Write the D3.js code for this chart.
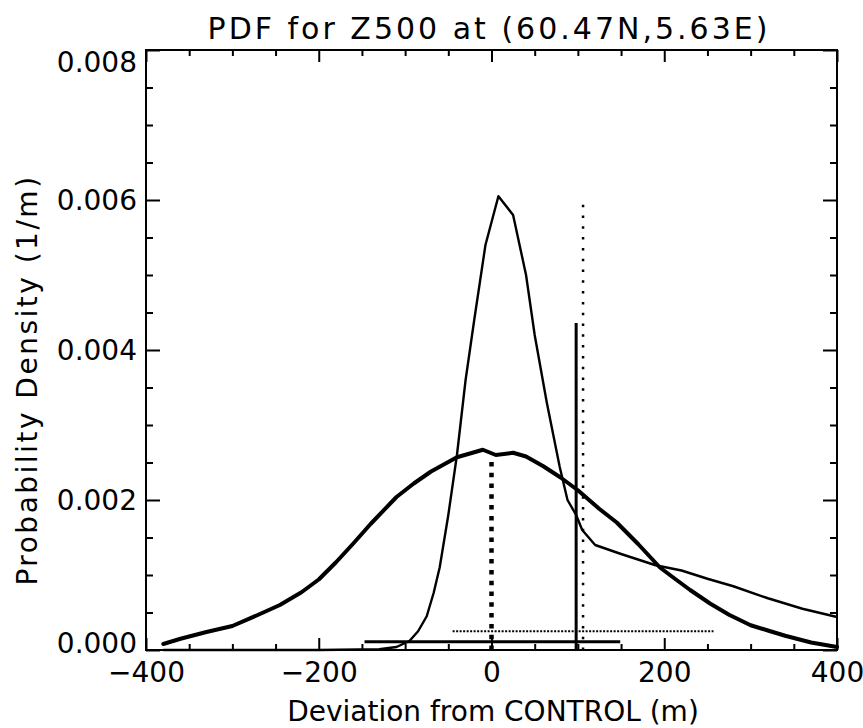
<!DOCTYPE html>
<html>
<head>
<meta charset="utf-8">
<script src="https://cdn.jsdelivr.net/npm/d3@7"></script>
<style>
  body { margin: 0; background: #fff; }
  svg text { font-family: "DejaVu Sans", sans-serif; fill: #000; }
</style>
</head>
<body>
<div id="chart"></div>
<script>
// broad PDF (thick curve): deviation (m) / density (1/m)
const broadX = [-380, -360, -330, -300, -270, -245, -220, -200, -180, -160, -140, -110, -90, -70, -40, -10, 5, 25, 40, 60, 80, 100, 125, 145, 170, 195, 210, 230, 253, 275, 300, 320, 340, 370, 400];
const broadY = [0.00008, 0.00015, 0.00024, 0.00032, 0.00047, 0.0006, 0.00077, 0.00094, 0.00117, 0.00142, 0.00168, 0.00204, 0.00222, 0.00238, 0.00257, 0.00267, 0.0026, 0.00263, 0.00258, 0.00245, 0.0023, 0.00213, 0.00188, 0.0017, 0.00141, 0.0011, 0.00097, 0.0008, 0.00062, 0.00047, 0.00033, 0.00026, 0.00019, 0.0001, 0.00004];

// narrow PDF (thin curve)
const narrowX = [-380, -200, -130, -110, -95, -85, -75, -67, -60, -50, -40, -30, -20, -7, 8, 25, 40, 50, 64, 79, 88, 98, 105, 120, 150, 190, 220, 250, 280, 320, 360, 400];
const narrowY = [0, 0, 0.00001, 0.00004, 0.00012, 0.00025, 0.00045, 0.00076, 0.0011, 0.0018, 0.0026, 0.0036, 0.0044, 0.0054, 0.00605, 0.0058, 0.005, 0.0042, 0.0033, 0.00244, 0.002, 0.0018, 0.0016, 0.0014, 0.00128, 0.00113, 0.00106, 0.00095, 0.00085, 0.00069, 0.00055, 0.00044];

// vertical markers: broad mean, narrow mean, observed value
const markX = [0, 106, 98];
const markTop = [0.00257, 0.00597, 0.00436];

// horizontal spreads: narrow, broad
const spreadX0 = [-45, -147];
const spreadX1 = [257, 149];
const spreadY = [0.00025, 0.00011];

const xTicks = [-400, -200, 0, 200, 400];
const yTicks = [0, 0.002, 0.004, 0.006, 0.008];
const xMinor = d3.range(-400, 401, 50).filter(v => v % 200 !== 0);
const yMinor = [0.0005, 0.001, 0.0015, 0.0025, 0.003, 0.0035, 0.0045, 0.005, 0.0055, 0.0065, 0.007, 0.0075];

const width = 863, height = 728;
const margin = { top: 50, right: 26, bottom: 78, left: 146 };

const svg = d3.select("#chart").append("svg")
    .attr("width", width)
    .attr("height", height);

const x = d3.scaleLinear().domain([-400, 400]).range([margin.left, width - margin.right]);
const y = d3.scaleLinear().domain([0, 0.008]).range([height - margin.bottom, margin.top]);

// ===== axes (ticks point inward, IDL style) =====
const fontSize = "28px";

// bottom
svg.append("g")
    .attr("transform", `translate(0,${y(0)})`)
    .call(d3.axisBottom(x).tickValues(xTicks).tickSize(-12).tickPadding(12))
    .call(g => g.select(".domain").remove())
    .call(g => g.selectAll("text").style("font-size", fontSize).style("font-family", "DejaVu Sans"));
svg.append("g")
    .attr("transform", `translate(0,${y(0)})`)
    .call(d3.axisBottom(x).tickValues(xMinor).tickSize(-6).tickFormat(""))
    .call(g => g.select(".domain").remove());

// top
svg.append("g")
    .attr("transform", `translate(0,${y(0.008)})`)
    .call(d3.axisTop(x).tickValues(xTicks).tickSize(-12).tickFormat(""))
    .call(g => g.select(".domain").remove());
svg.append("g")
    .attr("transform", `translate(0,${y(0.008)})`)
    .call(d3.axisTop(x).tickValues(xMinor).tickSize(-6).tickFormat(""))
    .call(g => g.select(".domain").remove());

// left
svg.append("g")
    .attr("transform", `translate(${x(-400)},0)`)
    .call(d3.axisLeft(y).tickValues(yTicks).tickSize(-14).tickPadding(9).tickFormat(d3.format(".3f")))
    .call(g => g.select(".domain").remove())
    .call(g => g.selectAll("text")
        .style("font-size", fontSize).style("font-family", "DejaVu Sans")
        .attr("dy", d => d === 0.008 ? "0.75em" : d === 0 ? "0.1em" : "0.35em"));
svg.append("g")
    .attr("transform", `translate(${x(-400)},0)`)
    .call(d3.axisLeft(y).tickValues(yMinor).tickSize(-7).tickFormat(""))
    .call(g => g.select(".domain").remove());

// right
svg.append("g")
    .attr("transform", `translate(${x(400)},0)`)
    .call(d3.axisRight(y).tickValues(yTicks).tickSize(-14).tickFormat(""))
    .call(g => g.select(".domain").remove());
svg.append("g")
    .attr("transform", `translate(${x(400)},0)`)
    .call(d3.axisRight(y).tickValues(yMinor).tickSize(-7).tickFormat(""))
    .call(g => g.select(".domain").remove());

svg.selectAll(".tick line").attr("stroke", "#000").attr("stroke-width", 2);

// frame
svg.append("rect")
    .attr("x", x(-400)).attr("y", y(0.008))
    .attr("width", x(400) - x(-400)).attr("height", y(0) - y(0.008))
    .attr("fill", "none").attr("stroke", "#000").attr("stroke-width", 2);

// ===== curves =====
const line = d3.line().x(d => x(d[0])).y(d => y(d[1]));

svg.append("path")
    .datum(d3.zip(narrowX, narrowY))
    .attr("fill", "none").attr("stroke", "#000")
    .attr("stroke-width", 2.4).attr("stroke-linejoin", "round")
    .attr("d", line);

svg.append("path")
    .datum(d3.zip(broadX, broadY))
    .attr("fill", "none").attr("stroke", "#000")
    .attr("stroke-width", 4).attr("stroke-linejoin", "round").attr("stroke-linecap", "round")
    .attr("d", line);

// vertical markers
const vStyles = [
    { w: 4.5, dash: "4.5,6.3" },
    { w: 2.5, dash: "2.5,8.3" },
    { w: 3, dash: null }
];
markX.forEach((mx, i) => {
    svg.append("line")
        .attr("x1", x(mx)).attr("x2", x(mx))
        .attr("y1", y(0)).attr("y2", y(markTop[i]))
        .attr("stroke", "#000")
        .attr("stroke-width", vStyles[i].w)
        .attr("stroke-dasharray", vStyles[i].dash);
});

// horizontal spreads
const hStyles = [
    { w: 2, dash: "2,1.5" },
    { w: 3, dash: null }
];
spreadY.forEach((sy, i) => {
    svg.append("line")
        .attr("x1", x(spreadX0[i])).attr("x2", x(spreadX1[i]))
        .attr("y1", y(sy)).attr("y2", y(sy))
        .attr("stroke", "#000")
        .attr("stroke-width", hStyles[i].w)
        .attr("stroke-dasharray", hStyles[i].dash);
});

// ===== labels =====
svg.append("text")
    .attr("x", 489).attr("y", 39)
    .attr("text-anchor", "middle")
    .style("font-size", "30px")
    .style("letter-spacing", "3px")
    .text("PDF for Z500 at (60.47N,5.63E)");

svg.append("text")
    .attr("x", 493).attr("y", 721)
    .attr("text-anchor", "middle")
    .style("font-size", fontSize)
    .text("Deviation from CONTROL (m)");

svg.append("text")
    .attr("transform", "translate(37,380) rotate(-90)")
    .attr("text-anchor", "middle")
    .style("font-size", fontSize)
    .style("letter-spacing", "2.5px")
    .text("Probability Density (1/m)");
</script>
</body>
</html>
